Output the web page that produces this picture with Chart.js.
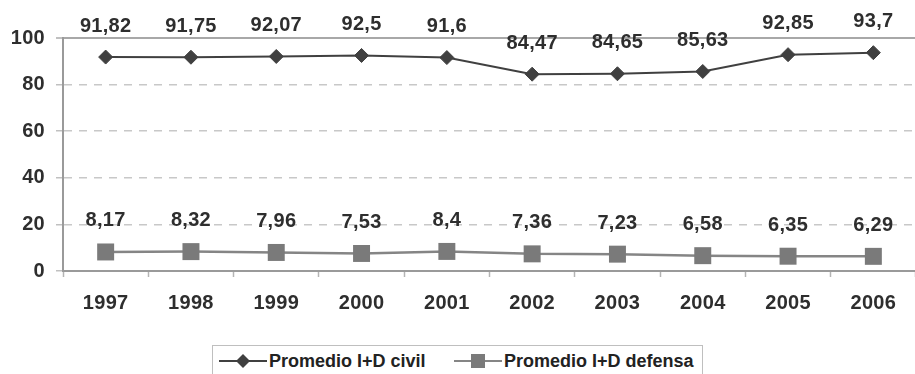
<!DOCTYPE html>
<html>
<head>
<meta charset="utf-8">
<script src="https://cdn.jsdelivr.net/npm/chart.js@4/dist/chart.umd.min.js"></script>
<style>
  html, body { margin: 0; padding: 0; background: #fff; }
  #wrap { position: relative; width: 915px; height: 374px; overflow: hidden; }
  #c { position: absolute; left: 0; top: 0; }
  #legend {
    position: absolute; left: 212px; top: 345px; width: 491px; height: 40px;
    box-sizing: border-box; border: 1px solid #bfbfbf; background: #fff;
    font: bold 18px Arial, "Liberation Sans", sans-serif; color: #222;
  }
  .item { position: absolute; top: 5px; height: 20px; display: flex; align-items: center; white-space: nowrap; }
  .item svg { display: block; margin-right: 1px; }
</style>
</head>
<body>
<div id="wrap">
  <canvas id="c" width="928" height="374"></canvas>
  <div id="legend"></div>
</div>
<script>
// Years on the horizontal axis
const years = ['1997', '1998', '1999', '2000', '2001', '2002', '2003', '2004', '2005', '2006'];
// Average share of civil R&D (%)
const civil = [91.82, 91.75, 92.07, 92.5, 91.6, 84.47, 84.65, 85.63, 92.85, 93.7];
// Average share of defence R&D (%)
const defensa = [8.17, 8.32, 7.96, 7.53, 8.4, 7.36, 7.23, 6.58, 6.35, 6.29];
// Vertical axis ticks
const yTicks = [0, 20, 40, 60, 80, 100];
const seriesNames = ['Promedio I+D civil', 'Promedio I+D defensa'];

const FONT = 'Arial, "Liberation Sans", sans-serif';
const SPACING = '0.3px';

// Value labels above each point, decimal comma
const valueLabels = {
  id: 'valueLabels',
  afterDatasetsDraw(chart) {
    const ctx = chart.ctx;
    ctx.save();
    ctx.letterSpacing = SPACING;
    ctx.font = 'bold 20px ' + FONT;
    ctx.fillStyle = '#2e2e2e';
    ctx.textAlign = 'center';
    ctx.textBaseline = 'middle';
    chart.data.datasets.forEach((ds, di) => {
      const meta = chart.getDatasetMeta(di);
      meta.data.forEach((pt, i) => {
        const txt = String(ds.data[i]).replace('.', ',');
        ctx.fillText(txt, pt.x, pt.y - 31);
      });
    });
    ctx.restore();
  }
};

// Slightly spaced lettering for axis text
const spacing = {
  id: 'spacing',
  beforeInit(chart) { chart.ctx.letterSpacing = SPACING; },
  beforeDraw(chart) { chart.ctx.letterSpacing = SPACING; }
};

const chart = new Chart(document.getElementById('c'), {
  type: 'line',
  data: {
    labels: years,
    datasets: [
      {
        label: seriesNames[0],
        data: civil,
        borderColor: '#404040',
        backgroundColor: '#404040',
        borderWidth: 2,
        pointStyle: 'rectRot',
        pointRadius: 7,
        pointBorderWidth: 1,
        pointBorderColor: '#404040',
        pointBackgroundColor: '#404040',
        tension: 0
      },
      {
        label: seriesNames[1],
        data: defensa,
        borderColor: '#858585',
        backgroundColor: '#7a7a7a',
        borderWidth: 2.5,
        pointStyle: 'rect',
        pointRadius: 12,
        pointBorderWidth: 0,
        pointBackgroundColor: '#7a7a7a',
        tension: 0
      }
    ]
  },
  options: {
    responsive: false,
    animation: false,
    devicePixelRatio: 1,
    layout: { padding: { top: 38, right: 1, left: 0, bottom: 0 } },
    plugins: { legend: { display: false }, tooltip: { enabled: false } },
    scales: {
      x: {
        offset: true,
        grid: {
          offset: true,
          drawOnChartArea: false,
          drawTicks: true,
          tickLength: 6,
          tickWidth: 1.5,
          tickColor: '#b4b4b4'
        },
        border: { display: true, color: '#9a9a9a', width: 2 },
        ticks: {
          color: '#2e2e2e',
          padding: 14,
          maxRotation: 0,
          font: { family: FONT, size: 20, weight: 'bold' }
        },
        afterFit(s) { s.height = 103; }
      },
      y: {
        min: 0,
        max: 100,
        afterBuildTicks(s) { s.ticks = yTicks.map(v => ({ value: v })); },
        grid: {
          color: c => c.tick && c.tick.value === 0 ? 'rgba(0,0,0,0)'
                    : (c.tick && c.tick.value === 100 ? '#a8a8a8' : '#c8c8c8'),
          lineWidth: c => c.tick && c.tick.value === 100 ? 2 : 1.5,
          tickLength: 7,
          tickColor: '#c0c0c0'
        },
        border: {
          display: true, color: '#9a9a9a', width: 2,
          dash: c => (c.tick && c.tick.value !== 100) ? [8, 7] : []
        },
        ticks: {
          color: '#2e2e2e',
          padding: 11,
          font: { family: FONT, size: 20, weight: 'bold' }
        },
        afterFit(s) { s.width = 63; }
      }
    }
  },
  plugins: [spacing, valueLabels]
});

// Legend below the chart, built from the dataset styles
(function buildLegend() {
  const box = document.getElementById('legend');
  const lefts = [5, 240];
  chart.data.datasets.forEach((ds, i) => {
    const item = document.createElement('div');
    item.className = 'item';
    item.style.left = lefts[i] + 'px';
    const ns = 'http://www.w3.org/2000/svg';
    const svg = document.createElementNS(ns, 'svg');
    svg.setAttribute('width', '50');
    svg.setAttribute('height', '20');
    const line = document.createElementNS(ns, 'line');
    line.setAttribute('x1', '1'); line.setAttribute('x2', '49');
    line.setAttribute('y1', '10'); line.setAttribute('y2', '10');
    line.setAttribute('stroke', ds.borderColor);
    line.setAttribute('stroke-width', '2');
    svg.appendChild(line);
    const mark = document.createElementNS(ns, 'polygon');
    if (ds.pointStyle === 'rectRot') {
      mark.setAttribute('points', '25,3 32,10 25,17 18,10');
    } else {
      mark.setAttribute('points', '18,3 32,3 32,17 18,17');
    }
    mark.setAttribute('fill', ds.pointBackgroundColor);
    svg.appendChild(mark);
    item.appendChild(svg);
    const t = document.createElement('span');
    t.textContent = ds.label;
    item.appendChild(t);
    box.appendChild(item);
  });
})();
</script>
</body>
</html>
